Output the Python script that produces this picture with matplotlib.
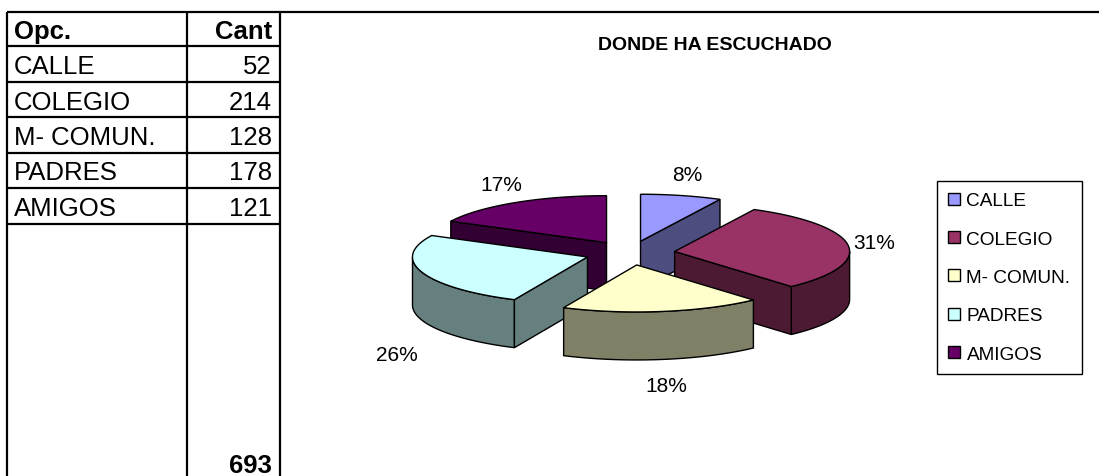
import numpy as np
import matplotlib.pyplot as plt
from matplotlib.patches import Polygon

plt.rcParams['font.family'] = ['Liberation Sans', 'DejaVu Sans']

opciones = ['CALLE', 'COLEGIO', 'M- COMUN.', 'PADRES', 'AMIGOS']
cantidades = [52, 214, 128, 178, 121]
colores = ['#9999FF', '#993366', '#FFFFCC', '#CCFFFF', '#660066']
colores_lado = ['#4D4D80', '#4D1A33', '#808066', '#668080', '#330033']
titulo = 'DONDE HA ESCUCHADO'

fig = plt.figure(figsize=(10.99, 4.77), dpi=100)
ax = fig.add_axes([0, 0, 1, 1])
ax.set_xlim(0, 1099)
ax.set_ylim(477, 0)
ax.axis('off')

# ---- tabla de la izquierda ----
ax.hlines(13, 7, 1099, color='black', lw=1.6)
filas_y = 47 + 35.5 * np.arange(len(opciones) + 1)
ax.hlines(filas_y, 7, 280, color='black', lw=1.6)
ax.vlines([7, 187, 280], 13, 477, color='black', lw=1.6)
fs = 18.5
ax.text(14, 32, 'Opc.', fontsize=fs, weight='bold', va='center')
ax.text(272, 32, 'Cant', fontsize=fs, weight='bold', va='center', ha='right')
for i, (op, c) in enumerate(zip(opciones, cantidades)):
    ax.text(14, filas_y[i] + 20, op, fontsize=fs, va='center')
    ax.text(272, filas_y[i] + 20, str(c), fontsize=fs, va='center', ha='right')
ax.text(272, 466, str(sum(cantidades)), fontsize=fs, weight='bold', va='center', ha='right')

# ---- torta 3D separada ----
cx, cy = 630, 254
ra, rb = 175, 47
prof = 48
expl = 45

total = sum(cantidades)
fr = np.array(cantidades) / total
bordes = 90 - 360 * np.concatenate([[0], np.cumsum(fr)])

rebanadas = []
for i in range(len(cantidades)):
    t1, t2 = np.radians(bordes[i + 1]), np.radians(bordes[i])
    mid = (t1 + t2) / 2
    rebanadas.append((np.sin(mid), i, t1, t2, mid))
rebanadas.sort(key=lambda r: -r[0])

tapas = {}
z = 2
for s, i, t1, t2, mid in rebanadas:
    ox = cx + expl * np.cos(mid)
    oy = cy - expl * (rb / ra) * np.sin(mid)
    t = np.linspace(t1, t2, 80)
    px = ox + ra * np.cos(t)
    py = oy - rb * np.sin(t)

    # lado curvo (solo la parte de adelante)
    m = np.sin(t) <= 0
    if m.sum() > 1:
        fx, fy = px[m], py[m]
        pts = np.column_stack([np.concatenate([fx, fx[::-1]]),
                               np.concatenate([fy, fy[::-1] + prof])])
        ax.add_patch(Polygon(pts, closed=True, fc=colores_lado[i], ec='black', lw=1.0, zorder=z))
    # paredes radiales
    for ang, vis in ((t1, np.cos(t1) > 1e-6), (t2, np.cos(t2) < -1e-6)):
        if vis:
            rx = ox + ra * np.cos(ang)
            ry = oy - rb * np.sin(ang)
            pts = [(ox, oy), (rx, ry), (rx, ry + prof), (ox, oy + prof)]
            ax.add_patch(Polygon(pts, closed=True, fc=colores_lado[i], ec='black', lw=1.0, zorder=z))
    top = np.column_stack([np.concatenate([[ox], px]), np.concatenate([[oy], py])])
    tapas[i] = ax.add_patch(Polygon(top, closed=True, fc=colores[i], ec='black', lw=1.0, zorder=z + 1))
    z += 2

    # etiqueta de porcentaje
    lx = ox + 1.15 * ra * np.cos(mid)
    if np.sin(mid) < 0:
        ly = oy - 1.6 * rb * np.sin(mid) + prof * (0.85 + 0.7 * abs(np.cos(mid)))
    else:
        ly = oy - 1.45 * rb * np.sin(mid)
    ax.text(lx, ly, f'{round(fr[i] * 100):.0f}%', fontsize=15, ha='center', va='center')

ax.text(715, 46, titulo, fontsize=14, weight='bold', ha='center', va='center')

leg = ax.legend([tapas[i] for i in range(len(opciones))], opciones,
                loc='upper left', bbox_to_anchor=(937 / 1099, 1 - 182 / 477),
                borderaxespad=0, fontsize=13.7, handlelength=0.6, handleheight=0.6,
                handletextpad=0.35, labelspacing=1.12, borderpad=0.6,
                fancybox=False, framealpha=1, edgecolor='black')
leg.get_frame().set_linewidth(1.0)

fig.savefig('out.png', dpi=100, facecolor='white')
